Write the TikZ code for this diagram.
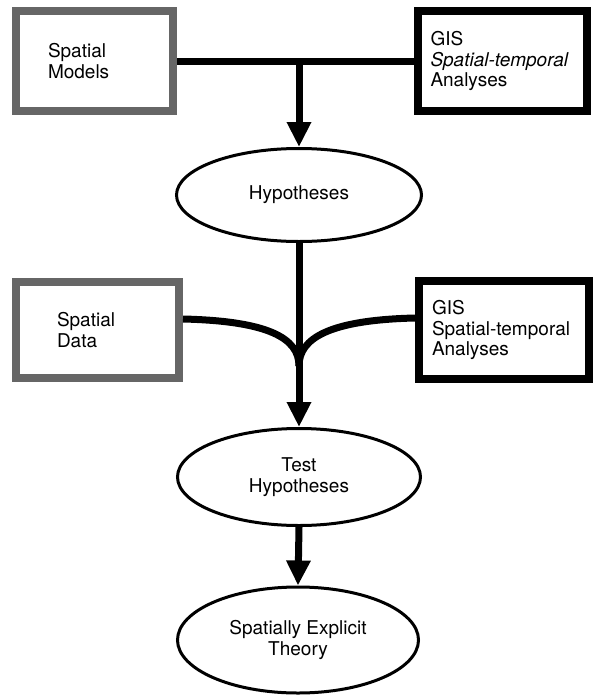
\documentclass[tikz,border=0pt]{standalone}
\usepackage{fontspec}
\setmainfont{TeX Gyre Heros}
\usetikzlibrary{shapes.geometric,arrows.meta}
\begin{document}
\begin{tikzpicture}[x=1pt,y=-1pt,
  every node/.style={font=\fontsize{19}{20.5}\selectfont},
  greybox/.style={draw=black!60, line width=8pt, rectangle, inner sep=0pt, align=left},
  blackbox/.style={draw=black, line width=8pt, rectangle, inner sep=0pt, align=left},
  oval/.style={ellipse, draw, line width=3pt, inner sep=0pt, align=center},
  conn/.style={line width=7pt},
  arr/.style={-{Triangle[length=25pt,width=23pt]}}]
\fill[white] (0,0) rectangle (596,696);
\useasboundingbox (0,0) rectangle (596,696);

\node[greybox, minimum width=157pt, minimum height=100pt, text width=93pt] (sm) at (94.5,61) {Spatial\\Models};
\node[blackbox, minimum width=169pt, minimum height=100pt, text width=144pt] (g1) at (502.5,61) {GIS\\\textit{Spatial-temporal}\\Analyses};
\node[greybox, minimum width=163pt, minimum height=96pt, text width=81pt] (sd) at (97.5,330) {Spatial\\Data};
\node[blackbox, minimum width=170pt, minimum height=98pt, text width=144pt] (g2) at (504,330) {GIS\\Spatial-temporal\\Analyses};
\node[oval, minimum width=245pt, minimum height=93pt] (hyp) at (299,195) {Hypotheses};
\node[oval, minimum width=243pt, minimum height=97pt] (test) at (299,477) {Test\\Hypotheses};
\node[oval, minimum width=241pt, minimum height=106pt] (th) at (298,640) {Spatially Explicit\\Theory};

\draw[conn] (sm.east) -- (g1.west);
\coordinate (t) at (299,61);
\draw[conn,arr] (t) -- (hyp.north);
\draw[conn,arr] (hyp.south) -- (test.north);
\coordinate (j) at (299,366);
\draw[conn] ([yshift=11pt]sd.east) .. controls (268,321) and (299,338) .. (j);
\draw[conn] ([yshift=12pt]g2.west) .. controls (330,320) and (299,338) .. (j);
\draw[conn,arr] (test.south) -- (th.north);
\end{tikzpicture}
\end{document}
